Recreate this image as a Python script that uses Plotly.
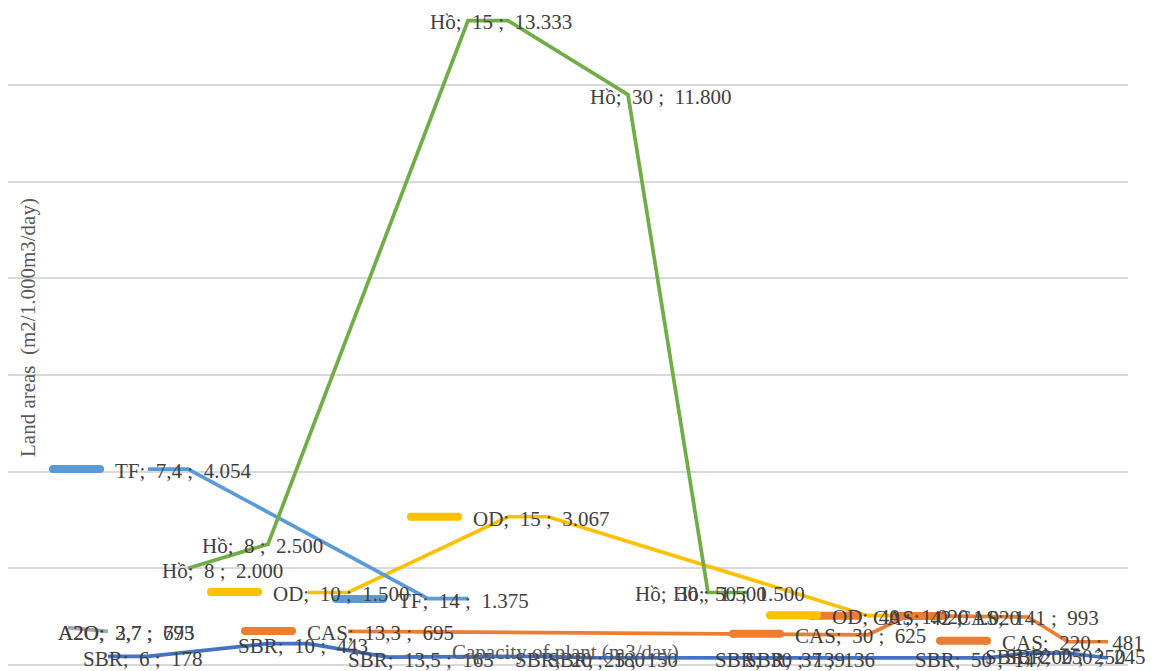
import plotly.graph_objects as go

# ---------------- data ----------------
N_CATS = 28  # category slots on the (unlabelled) capacity axis

sbr_idx = [2, 3, 6, 7, 9, 10, 13, 14, 19, 20, 23, 24, 25, 26, 27]
sbr_val = [178, 178, 443, 443, 165, 165, 180, 150, 139, 136, 147, 147, 250, 245, 145]

cas_idx = [8, 21, 22, 25, 26, 27]
cas_val = [695, 625, 1020, 993, 481, 481]

a2o_idx = [1, 2]
a2o_val = [773, 695]

od_idx = [7, 8, 12, 13, 21, 22]
od_val = [1500, 1500, 3067, 3067, 1020, 1020]

tf_idx = [3, 4, 10, 11]
tf_val = [4054, 4054, 1375, 1375]

ho_idx = [4, 6, 11, 12, 15, 17, 18]
ho_val = [2000, 2500, 13333, 13333, 11800, 1500, 1500]

series_names = ["SBR", "CAS", "A2O", "OD", "TF", "Hồ"]
series_idx = [sbr_idx, cas_idx, a2o_idx, od_idx, tf_idx, ho_idx]
series_val = [sbr_val, cas_val, a2o_val, od_val, tf_val, ho_val]

# data labels: (series, category slot, capacity text)
label_points = [
    ("SBR", 2, "6"), ("SBR", 6, "10"), ("SBR", 9, "13,5"), ("SBR", 13, "20"),
    ("SBR", 14, "25"), ("SBR", 19, "30"), ("SBR", 20, "37"), ("SBR", 24, "50"),
    ("SBR", 25, "200"), ("SBR", 26, "250"),
    ("CAS", 8, "13,3"), ("CAS", 21, "30"), ("CAS", 22, "42"), ("CAS", 25, "141"),
    ("CAS", 26, "220"),
    ("A2O", 1, "2,7"), ("A2O", 2, "3,7"),
    ("OD", 8, "10"), ("OD", 13, "15"), ("OD", 22, "40"),
    ("TF", 3, "7,4"), ("TF", 11, "14"),
    ("Hồ", 4, "8"), ("Hồ", 6, "8"), ("Hồ", 12, "15"), ("Hồ", 15, "30"),
    ("Hồ", 17, "30"), ("Hồ", 18, "50"),
]

# ---------------- style ----------------
colors = {"SBR": "#4472C4", "CAS": "#ED7D31", "A2O": "#A5A5A5",
          "OD": "#FFC000", "TF": "#5B9BD5", "Hồ": "#70AD47"}

# label placement (pixel offsets of text left edge / centre from the point) and legend-key flag
label_style = {
    ("SBR", 2): (-25, 2.5, False), ("SBR", 6): (-30, 2.5, False), ("SBR", 9): (-40, 3, False),
    ("SBR", 13): (-33, 4, False), ("SBR", 14): (-40, 2, False), ("SBR", 19): (-73, 2, False),
    ("SBR", 20): (-83, 2, False), ("SBR", 24): (-73, 2, False), ("SBR", 25): (-43, 4, False),
    ("SBR", 26): (-63, 4, False),
    ("CAS", 8): (-41, 1.5, True), ("CAS", 21): (-73, 1, True), ("CAS", 22): (-35, 2, True),
    ("CAS", 25): (-71, 1, True), ("CAS", 26): (-66, 1, True),
    ("A2O", 1): (-10, 5, False), ("A2O", 2): (-50, 1.5, False),
    ("OD", 8): (-75, 1.5, True), ("OD", 13): (-75, 2, True), ("OD", 22): (-76, 1.5, True),
    ("TF", 3): (-33, 2, True), ("TF", 11): (-70, 2.5, True),
    ("Hồ", 4): (-26, 3, False), ("Hồ", 6): (-66, 2, False), ("Hồ", 12): (-78, 1.5, False),
    ("Hồ", 15): (-38, 2, False), ("Hồ", 17): (-73, 1.5, False), ("Hồ", 18): (-75, 1.5, False),
}

FONT = "Times New Roman, Liberation Serif, serif"
FS = 21
SEP = ";\u00a0 "
KEY_W = 8  # legend-key thickness in px

# figure geometry (page body has an 8px margin)
FIG_W, FIG_H = 1148, 663
PLOT_W = 1120
PLOT_H = 657


def fmt(v):
    return f"{v:,}".replace(",", ".")


fig = go.Figure()
for name, idx, val in zip(series_names, series_idx, series_val):
    fig.add_trace(go.Scatter(
        x=idx, y=val, mode="lines", name=name,
        line=dict(color=colors[name], width=3.7),
        connectgaps=True, showlegend=False, hoverinfo="skip"))

annotations = []
shapes = []
for name in series_names:
    k = series_names.index(name)
    lookup = dict(zip(series_idx[k], series_val[k]))
    for (s, i, cap) in label_points:
        if s != name:
            continue
        v = lookup[i]
        dx, dy, key = label_style[(s, i)]
        if key:
            ky = -(dy - 2)
            kx0, kx1 = dx - 62, dx - 15
            shapes.append(dict(
                type="line", xref="x", yref="y", xsizemode="pixel", ysizemode="pixel",
                xanchor=i, yanchor=v, x0=kx0, x1=kx1, y0=ky, y1=ky,
                line=dict(color=colors[s], width=KEY_W), layer="above"))
            for cx in (kx0, kx1):
                shapes.append(dict(
                    type="circle", xref="x", yref="y", xsizemode="pixel", ysizemode="pixel",
                    xanchor=i, yanchor=v, x0=cx - KEY_W / 2, x1=cx + KEY_W / 2,
                    y0=ky - KEY_W / 2, y1=ky + KEY_W / 2,
                    fillcolor=colors[s], line=dict(width=0), layer="above"))
        annotations.append(dict(
            x=i, y=v, xref="x", yref="y", xanchor="left", yanchor="middle",
            xshift=dx - 2, yshift=-dy, showarrow=False,
            text=f"{s}{SEP}{cap} {SEP}{fmt(v)}",
            font=dict(family=FONT, size=FS, color="#404040")))

annotations.append(dict(
    x=557 / PLOT_W, y=(PLOT_H - 644) / PLOT_H, xref="paper", yref="paper",
    xanchor="center", yanchor="middle", showarrow=False,
    text="Capacity of plant (m3/day)",
    font=dict(family=FONT, size=FS, color="#595959")))
annotations.append(dict(
    x=20 / PLOT_W, y=(PLOT_H - 320) / PLOT_H, xref="paper", yref="paper",
    xanchor="center", yanchor="middle", showarrow=False, textangle=-90,
    text="Land areas\u00a0 (m2/1.000m3/day)",
    font=dict(family=FONT, size=FS, color="#595959")))

fig.update_layout(
    width=FIG_W, height=FIG_H,
    margin=dict(l=0, r=FIG_W - PLOT_W, t=0, b=FIG_H - PLOT_H, pad=0),
    paper_bgcolor="white", plot_bgcolor="white",
    annotations=annotations, shapes=shapes,
    xaxis=dict(range=[-0.5, N_CATS - 0.5], showgrid=False, showticklabels=False,
               zeroline=False, showline=False, ticks=""),
    yaxis=dict(range=[0, 13594], dtick=2000, tick0=0, showgrid=True,
               gridcolor="#D9D9D9", gridwidth=1.5, showticklabels=False,
               zeroline=True, zerolinecolor="#D9D9D9", zerolinewidth=1.5,
               showline=False, ticks=""),
)

fig.write_html("out.html")
